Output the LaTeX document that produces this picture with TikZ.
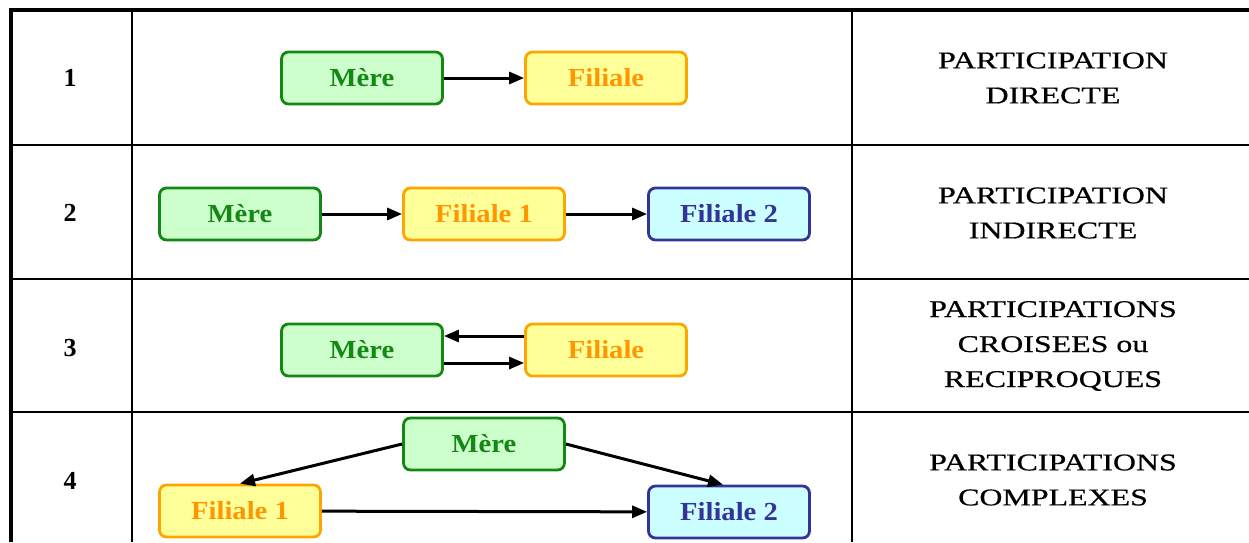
\documentclass[tikz,border=0pt]{standalone}
\usepackage{fontspec}
\setmainfont{Liberation Serif}
\newfontfamily\widefont[FakeStretch=1.33,FakeBold=0.6]{Liberation Serif}
\newfontfamily\boxfont[FakeStretch=1.1]{Liberation Serif Bold}
\usetikzlibrary{arrows.meta}
\definecolor{mereline}{RGB}{20,135,20}
\definecolor{merefill}{RGB}{204,255,204}
\definecolor{filline}{RGB}{255,165,0}
\definecolor{filfill}{RGB}{255,255,153}
\definecolor{filtext}{RGB}{255,150,0}
\definecolor{filbline}{RGB}{51,51,153}
\definecolor{filbfill}{RGB}{204,255,255}

\begin{document}
\begin{tikzpicture}[x=1pt,y=-1pt,
  box/.style={draw,rounded corners=7pt,minimum width=161pt,minimum height=52pt,
              line width=2.8pt,inner sep=0pt,font=\boxfont\fontsize{26}{30}\selectfont},
  merebox/.style={box,draw=mereline,fill=merefill,text=mereline},
  filbox/.style={box,draw=filline,fill=filfill,text=filtext},
  filbbox/.style={box,draw=filbline,fill=filbfill,text=filbline},
  lien/.style={line width=3pt,-{Triangle[length=15pt,width=12pt]}},
  num/.style={font=\fontsize{26}{30}\selectfont\bfseries},
  titre/.style={align=center,font=\widefont\fontsize{24}{35}\selectfont}]
\useasboundingbox (0,0) rectangle (1249,542);
\draw[line width=1.5pt] (132,10) -- (132,542) (852,10) -- (852,542)
  (11,145) -- (1249,145) (11,279) -- (1249,279) (11,412) -- (1249,412);
\draw[line width=4pt] (11,542) -- (11,10) -- (1249,10);

\node[num] (n1) at (70,78) {1};
\node[num] (n2) at (70,213) {2};
\node[num] (n3) at (70,348) {3};
\node[num] (n4) at (70,481) {4};

\node[titre] (t1) at (1053,78) {PARTICIPATION\\DIRECTE};
\node[titre] (t2) at (1053,213) {PARTICIPATION\\INDIRECTE};
\node[titre] (t3) at (1053,346) {PARTICIPATIONS\\CROISEES ou\\RECIPROQUES};
\node[titre] (t4) at (1053,480) {PARTICIPATIONS\\COMPLEXES};

\node[merebox] (mA) at (362,78) {Mère};
\node[filbox]  (fA) at (606,78) {Filiale};
\draw[lien] (mA) -- (fA);

\node[merebox] (mB)  at (240,214) {Mère};
\node[filbox]  (fB1) at (484,214) {Filiale 1};
\node[filbbox] (fB2) at (729,214) {Filiale 2};
\draw[lien] (mB) -- (fB1);
\draw[lien] (fB1) -- (fB2);

\node[merebox] (mC) at (362,350) {Mère};
\node[filbox]  (fC) at (606,350) {Filiale};
\draw[lien] ([yshift=14pt]fC.west) -- ([yshift=14pt]mC.east);
\draw[lien] ([yshift=-13pt]mC.east) -- ([yshift=-13pt]fC.west);

\node[merebox] (mD)  at (484,444) {Mère};
\node[filbox]  (fD1) at (240,511) {Filiale 1};
\node[filbbox] (fD2) at (729,512) {Filiale 2};
\draw[lien] (mD.west) -- (fD1.north);
\draw[lien] (mD.east) -- ([xshift=-6pt]fD2.north);
\draw[lien] (fD1) -- (fD2);
\end{tikzpicture}
\end{document}
